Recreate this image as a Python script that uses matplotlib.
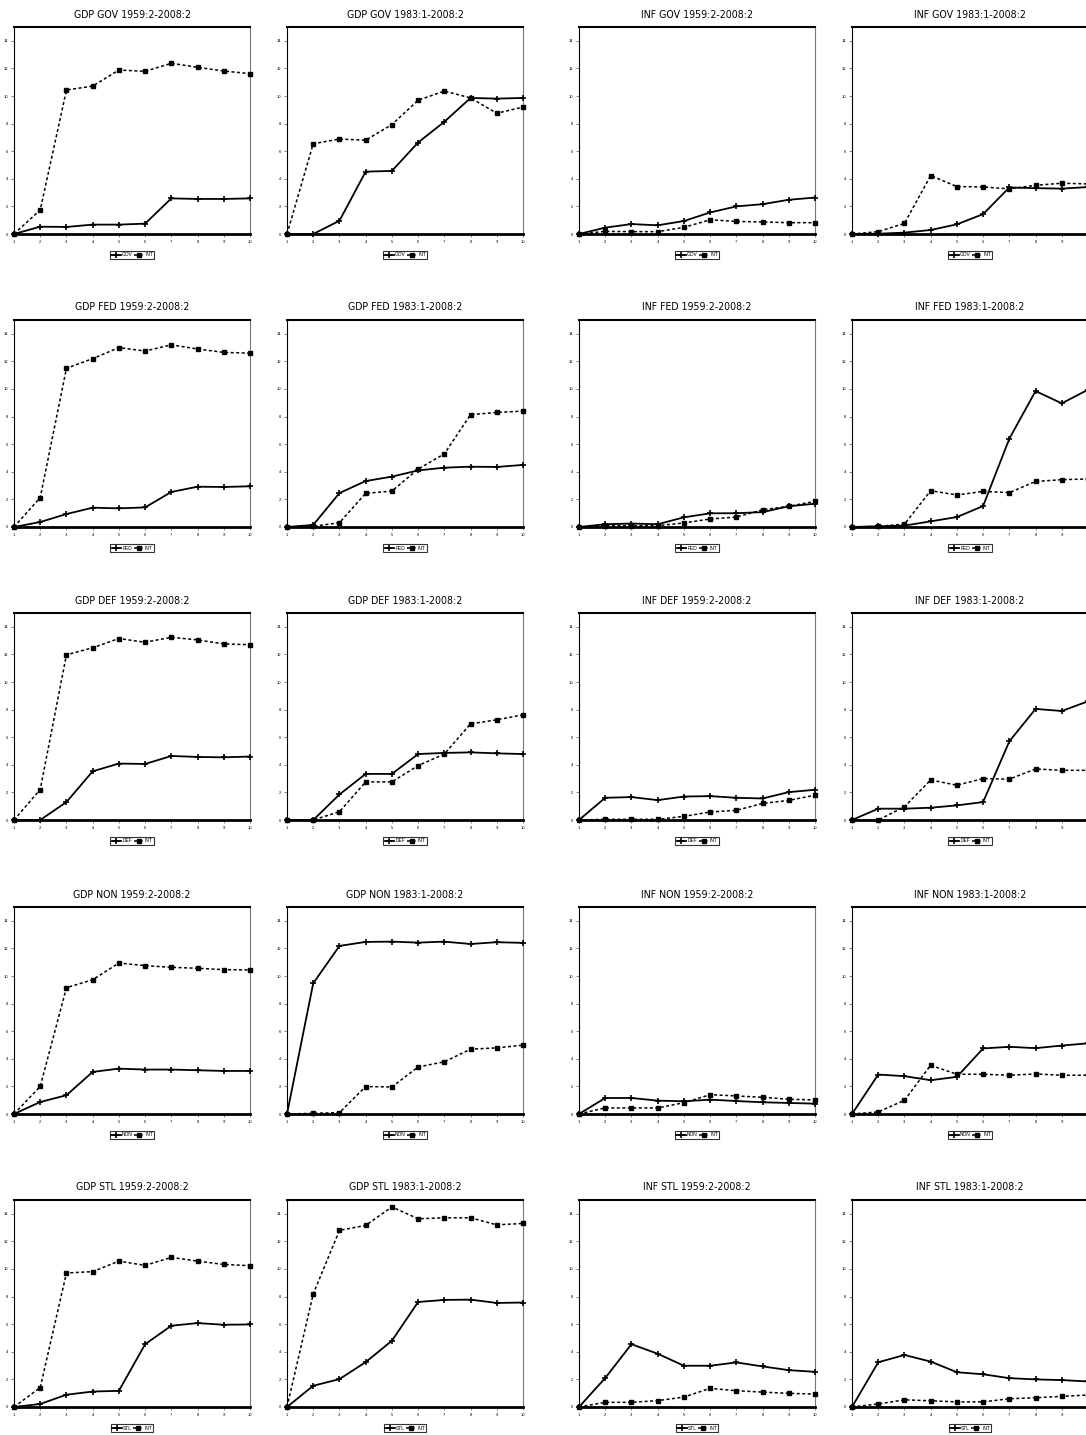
import matplotlib
matplotlib.use("Agg")
import matplotlib.pyplot as plt
from matplotlib import font_manager as fm

available = {f.name for f in fm.fontManager.ttflist}
condensed_dejavu = any(f.name == "DejaVu Sans" and f.stretch in ("condensed", "semi-condensed", 600, 700, 500)
                       for f in fm.fontManager.ttflist)
if "Liberation Sans Narrow" in available:
    title_font = dict(family=["Liberation Sans Narrow", "DejaVu Sans"], fontsize=9.5)
elif condensed_dejavu:
    title_font = dict(family=["DejaVu Sans", "Liberation Sans"], stretch="condensed", fontsize=7.6)
else:
    title_font = dict(family=["Liberation Sans", "DejaVu Sans"], fontsize=7.2)

plt.rcParams['font.family'] = ['Liberation Sans', 'DejaVu Sans']

steps = [1, 2, 3, 4, 5, 6, 7, 8, 9, 10]
y_ticks = [0, 2, 4, 6, 8, 10, 12, 14]
sectors = ["GOV", "FED", "DEF", "NON", "STL"]
int_label = "INT"

# ---- GOV ----
gdp_gov_59_sec = [0, 0.53, 0.51, 0.68, 0.68, 0.75, 2.58, 2.54, 2.54, 2.58]
gdp_gov_59_int = [0, 1.74, 10.43, 10.72, 11.88, 11.79, 12.37, 12.08, 11.81, 11.62]
gdp_gov_83_sec = [0, 0, 0.96, 4.52, 4.57, 6.63, 8.13, 9.86, 9.81, 9.86]
gdp_gov_83_int = [0, 6.54, 6.88, 6.80, 7.93, 9.69, 10.36, 9.86, 8.75, 9.20]
inf_gov_59_sec = [0, 0.46, 0.72, 0.63, 0.94, 1.56, 2.00, 2.16, 2.48, 2.64]
inf_gov_59_int = [0, 0.19, 0.17, 0.17, 0.48, 1.03, 0.91, 0.87, 0.82, 0.82]
inf_gov_83_sec = [0, 0.02, 0.10, 0.29, 0.70, 1.44, 3.37, 3.32, 3.29, 3.40]
inf_gov_83_int = [0, 0.17, 0.77, 4.23, 3.44, 3.41, 3.27, 3.53, 3.68, 3.63]

# ---- FED ----
gdp_fed_59_sec = [0, 0.36, 0.94, 1.40, 1.35, 1.42, 2.54, 2.92, 2.90, 2.95]
gdp_fed_59_int = [0, 2.13, 11.50, 12.20, 13.00, 12.75, 13.20, 12.90, 12.65, 12.60]
gdp_fed_83_sec = [0, 0.15, 2.46, 3.33, 3.65, 4.10, 4.30, 4.37, 4.35, 4.50]
gdp_fed_83_int = [0, 0.05, 0.31, 2.44, 2.60, 4.20, 5.30, 8.14, 8.30, 8.40]
inf_fed_59_sec = [0, 0.20, 0.25, 0.20, 0.70, 0.99, 1.00, 1.08, 1.50, 1.69]
inf_fed_59_int = [0, 0.10, 0.10, 0.10, 0.29, 0.58, 0.72, 1.25, 1.50, 1.86]
inf_fed_83_sec = [0, 0.05, 0.10, 0.41, 0.72, 1.52, 6.40, 9.85, 8.96, 9.95]
inf_fed_83_int = [0, 0.05, 0.20, 2.63, 2.32, 2.58, 2.49, 3.30, 3.43, 3.48]

# ---- DEF ----
gdp_def_59_sec = [0, 0, 1.30, 3.53, 4.09, 4.06, 4.64, 4.57, 4.54, 4.60]
gdp_def_59_int = [0, 2.21, 11.97, 12.48, 13.15, 12.88, 13.24, 13.05, 12.76, 12.70]
gdp_def_83_sec = [0, 0, 1.85, 3.34, 3.34, 4.78, 4.86, 4.90, 4.83, 4.78]
gdp_def_83_int = [0, 0, 0.60, 2.76, 2.76, 3.94, 4.78, 6.97, 7.26, 7.62]
inf_def_59_sec = [0, 1.61, 1.66, 1.44, 1.70, 1.73, 1.61, 1.56, 2.02, 2.19]
inf_def_59_int = [0, 0.05, 0.05, 0.05, 0.26, 0.58, 0.70, 1.20, 1.42, 1.80]
inf_def_83_sec = [0, 0.82, 0.82, 0.89, 1.06, 1.30, 5.70, 8.05, 7.90, 8.60]
inf_def_83_int = [0, 0, 0.96, 2.90, 2.52, 3.00, 2.96, 3.70, 3.60, 3.60]

# ---- NON ----
gdp_non_59_sec = [0, 0.87, 1.36, 3.05, 3.29, 3.22, 3.22, 3.17, 3.12, 3.12]
gdp_non_59_int = [0, 2.00, 9.15, 9.73, 10.94, 10.75, 10.63, 10.56, 10.46, 10.44]
gdp_non_83_sec = [0, 9.47, 12.18, 12.47, 12.49, 12.42, 12.49, 12.32, 12.45, 12.40]
gdp_non_83_int = [0, 0.05, 0.10, 1.99, 1.96, 3.41, 3.78, 4.70, 4.79, 4.99]
inf_non_59_sec = [0, 1.16, 1.16, 0.97, 0.92, 1.04, 0.94, 0.85, 0.80, 0.75]
inf_non_59_int = [0, 0.44, 0.44, 0.44, 0.82, 1.40, 1.31, 1.21, 1.07, 1.02]
inf_non_83_sec = [0, 2.86, 2.74, 2.45, 2.69, 4.75, 4.87, 4.77, 4.96, 5.12]
inf_non_83_int = [0, 0.15, 0.99, 3.53, 2.88, 2.88, 2.81, 2.90, 2.81, 2.81]

# ---- STL ----
gdp_stl_59_sec = [0, 0.22, 0.89, 1.12, 1.17, 4.55, 5.89, 6.08, 5.96, 5.98]
gdp_stl_59_int = [0, 1.41, 9.71, 9.81, 10.57, 10.26, 10.84, 10.57, 10.33, 10.24]
gdp_stl_83_sec = [0, 1.54, 2.02, 3.25, 4.80, 7.61, 7.76, 7.78, 7.54, 7.57]
gdp_stl_83_int = [0, 8.19, 12.80, 13.16, 14.50, 13.64, 13.71, 13.71, 13.20, 13.30]
inf_stl_59_sec = [0, 2.10, 4.55, 3.86, 2.99, 2.99, 3.23, 2.94, 2.67, 2.55]
inf_stl_59_int = [0, 0.34, 0.34, 0.46, 0.72, 1.35, 1.18, 1.08, 0.99, 0.94]
inf_stl_83_sec = [0, 3.24, 3.77, 3.29, 2.52, 2.37, 2.09, 2.00, 1.95, 1.85]
inf_stl_83_int = [0, 0.22, 0.52, 0.45, 0.37, 0.37, 0.60, 0.67, 0.77, 0.87]

panels = [
    [("GDP GOV 1959:2-2008:2", gdp_gov_59_sec, gdp_gov_59_int),
     ("GDP GOV 1983:1-2008:2", gdp_gov_83_sec, gdp_gov_83_int),
     ("INF GOV 1959:2-2008:2", inf_gov_59_sec, inf_gov_59_int),
     ("INF GOV 1983:1-2008:2", inf_gov_83_sec, inf_gov_83_int)],
    [("GDP FED 1959:2-2008:2", gdp_fed_59_sec, gdp_fed_59_int),
     ("GDP FED 1983:1-2008:2", gdp_fed_83_sec, gdp_fed_83_int),
     ("INF FED 1959:2-2008:2", inf_fed_59_sec, inf_fed_59_int),
     ("INF FED 1983:1-2008:2", inf_fed_83_sec, inf_fed_83_int)],
    [("GDP DEF 1959:2-2008:2", gdp_def_59_sec, gdp_def_59_int),
     ("GDP DEF 1983:1-2008:2", gdp_def_83_sec, gdp_def_83_int),
     ("INF DEF 1959:2-2008:2", inf_def_59_sec, inf_def_59_int),
     ("INF DEF 1983:1-2008:2", inf_def_83_sec, inf_def_83_int)],
    [("GDP NON 1959:2-2008:2", gdp_non_59_sec, gdp_non_59_int),
     ("GDP NON 1983:1-2008:2", gdp_non_83_sec, gdp_non_83_int),
     ("INF NON 1959:2-2008:2", inf_non_59_sec, inf_non_59_int),
     ("INF NON 1983:1-2008:2", inf_non_83_sec, inf_non_83_int)],
    [("GDP STL 1959:2-2008:2", gdp_stl_59_sec, gdp_stl_59_int),
     ("GDP STL 1983:1-2008:2", gdp_stl_83_sec, gdp_stl_83_int),
     ("INF STL 1959:2-2008:2", inf_stl_59_sec, inf_stl_59_int),
     ("INF STL 1983:1-2008:2", inf_stl_83_sec, inf_stl_83_int)],
]

W, H = 1086, 1435
fig = plt.figure(figsize=(W / 100, H / 100), dpi=100)
fig.patch.set_facecolor("white")

col_left = [14, 287, 579, 852]
row_top = [27, 320, 613, 907, 1200]
ax_w, ax_h = 236, 207

for r, row in enumerate(panels):
    for c, (title, sec, intr) in enumerate(row):
        rect = [col_left[c] / W, 1 - (row_top[r] + ax_h) / H, ax_w / W, ax_h / H]
        ax = fig.add_axes(rect)
        ax.plot(steps, sec, color="black", lw=1.3, marker="+", ms=5, mew=1.2,
                label=sectors[r], clip_on=False, zorder=3)
        ax.plot(steps, intr, color="black", lw=1.1, ls=(0, (2, 1.6)), marker="s",
                ms=3.4, label=int_label, clip_on=False, zorder=3)
        ax.set_xlim(1, 10)
        ax.set_ylim(0, 15)
        ax.set_xticks(steps)
        ax.set_yticks(y_ticks)
        ax.tick_params(axis="both", labelsize=3, length=2, width=0.5, pad=2,
                       direction="out", color="#555555")
        for s in ["left", "right"]:
            ax.spines[s].set_linewidth(0.8)
        ax.spines["right"].set_color("#777777")
        ax.spines["top"].set_linewidth(1.5)
        ax.spines["bottom"].set_linewidth(2.0)
        ax.annotate(title, xy=(0.5, 1), xycoords="axes fraction",
                    xytext=(0, 9), textcoords="offset points",
                    ha="center", va="center", **title_font)
        leg = ax.legend(loc="center", bbox_to_anchor=(0.5, -21 / ax_h), ncol=2,
                        fontsize=3.5, frameon=True, fancybox=False, handlelength=2.0,
                        handletextpad=0.2, columnspacing=0.4, borderpad=0.25,
                        borderaxespad=0, markerscale=0.8)
        leg.get_frame().set_edgecolor("black")
        leg.get_frame().set_linewidth(0.8)

fig.savefig("out.png", dpi=100, facecolor="white")
